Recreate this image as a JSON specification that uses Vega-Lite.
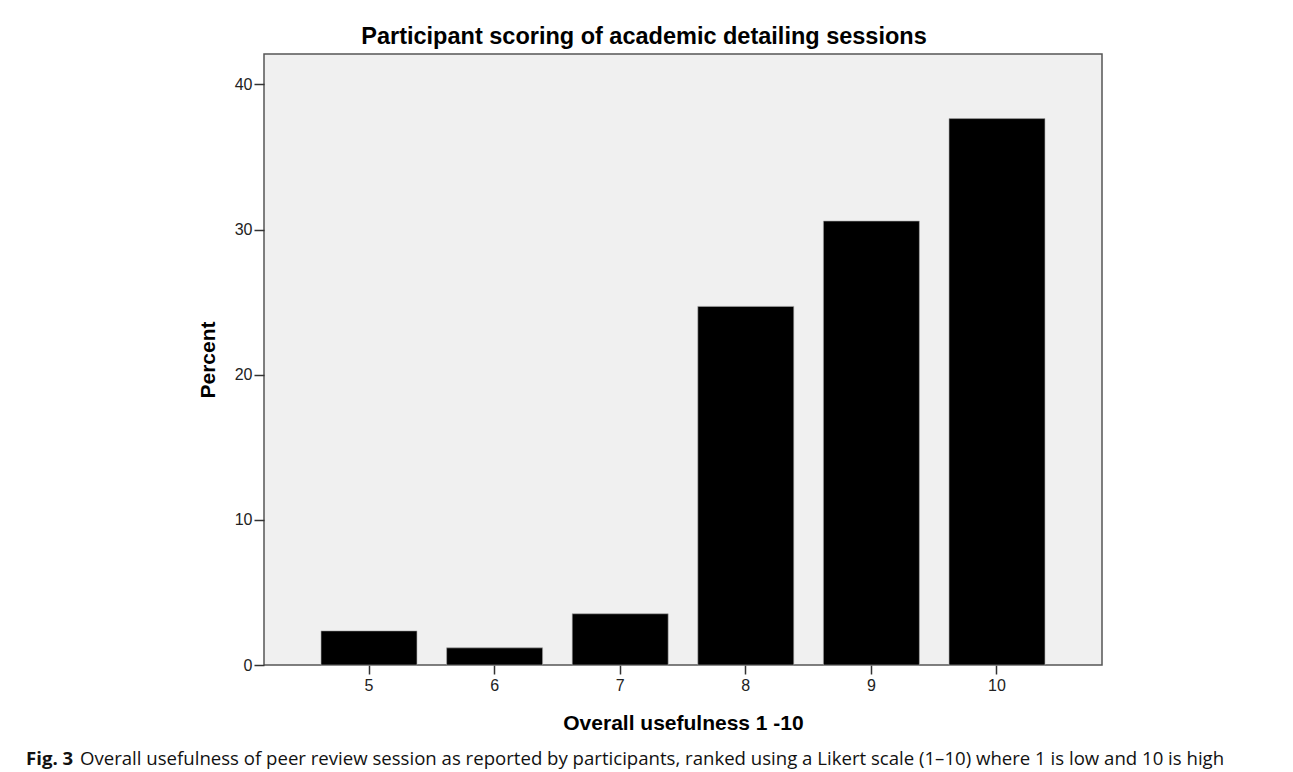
{
  "$schema": "https://vega.github.io/schema/vega-lite/v6.json",
  "background": "white",
  "padding": {"left": 26, "top": 23, "right": 0, "bottom": 0},
  "config": {
    "font": "Liberation Sans",
    "view": {"stroke": null}
  },
  "spacing": 16,
  "vconcat": [
    {
      "spacing": 13,
      "hconcat": [
        {
          "width": 157, "height": 1,
          "data": {"values": []},
          "mark": "point",
          "encoding": {}
        },
        {
          "width": 838, "height": 611,
          "title": {
            "text": "Participant scoring of academic detailing sessions",
            "font": "Liberation Sans", "fontSize": 23.5, "fontWeight": "bold",
            "color": "#000", "anchor": "middle", "frame": "group", "dx": -39, "offset": 6
          },
          "data": {
            "values": [
              {"score": 5, "percent": 2.35},
              {"score": 6, "percent": 1.18},
              {"score": 7, "percent": 3.53},
              {"score": 8, "percent": 24.71},
              {"score": 9, "percent": 30.59},
              {"score": 10, "percent": 37.65}
            ]
          },
          "view": {"fill": "#f0f0f0", "stroke": "#555", "strokeWidth": 1.5},
          "mark": {"type": "bar", "color": "#000", "stroke": "#aaa", "strokeWidth": 0.6},
          "encoding": {
            "x": {
              "field": "score", "type": "ordinal", "title": "Overall usefulness 1 -10",
              "scale": {"paddingInner": 0.236, "paddingOuter": 0.454},
              "axis": {
                "labelAngle": 0, "labelFontSize": 16, "labelColor": "#222", "labelPadding": 3,
                "tickSize": 9, "tickColor": "#333", "tickWidth": 1.5, "domain": false,
                "titleFontSize": 21, "titleFontWeight": "bold", "titleColor": "#000", "titlePadding": 19
              }
            },
            "y": {
              "field": "percent", "type": "quantitative", "title": "Percent",
              "scale": {"domain": [0, 42.1], "nice": false},
              "axis": {
                "values": [0, 10, 20, 30, 40], "grid": false, "domain": false,
                "labelFontSize": 16, "labelColor": "#222", "labelPadding": 2,
                "tickSize": 10, "tickColor": "#333", "tickWidth": 1.5,
                "titleFontSize": 21, "titleFontWeight": "bold", "titleColor": "#000", "titlePadding": 16
              }
            }
          }
        }
      ]
    },
    {
      "spacing": 6,
      "hconcat": [
        {
          "width": 1, "height": 1,
          "data": {"values": []},
          "mark": "point",
          "encoding": {},
          "title": {"text": "Fig. 3", "font": "Open Sans", "fontSize": 18.6, "fontWeight": "bold", "color": "#111", "anchor": "start", "offset": 0}
        },
        {
          "width": 1, "height": 1,
          "data": {"values": []},
          "mark": "point",
          "encoding": {},
          "title": {"text": "Overall usefulness of peer review session as reported by participants, ranked using a Likert scale (1–10) where 1 is low and 10 is high", "font": "Open Sans", "fontSize": 18.6, "fontWeight": "normal", "color": "#111", "anchor": "start", "offset": 0}
        }
      ]
    }
  ]
}
